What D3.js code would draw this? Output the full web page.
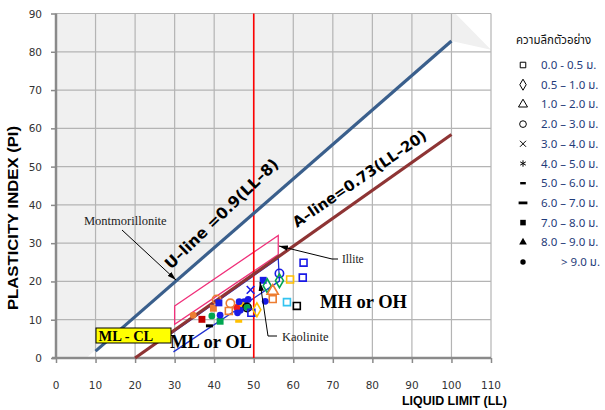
<!DOCTYPE html>
<html>
<head>
<meta charset="utf-8">
<script src="https://cdn.jsdelivr.net/npm/d3@7"></script>
<style>
  body { margin: 0; background: #fff; }
  svg { display: block; }
</style>
</head>
<body>
<svg id="chart" width="605" height="410"></svg>
<script>
// ---- axis ticks ----
const llTicks = [0, 10, 20, 30, 40, 50, 60, 70, 80, 90, 100, 110];
const piTicks = [0, 10, 20, 30, 40, 50, 60, 70, 80, 90];

// ---- legend: sample depth classes ----
const depthTitle = "ความลึกตัวอย่าง";
const depthLabels = [
  "0.0 - 0.5 ม.", "0.5 – 1.0 ม.", "1.0 – 2.0 ม.", "2.0 – 3.0 ม.",
  "3.0 – 4.0 ม.", "4.0 – 5.0 ม.", "5.0 – 6.0 ม.", "6.0 – 7.0 ม.",
  "7.0 – 8.0 ม.", "8.0 – 9.0 ม.", "> 9.0 ม."
];

// ---- reference lines (LL, PI) ----
const uLine = [[10, 1.8], [100, 82.8]];          // PI = 0.9(LL-8)
const aLine = [[20, 0], [100, 58.4]];            // PI = 0.73(LL-20)
const llDivide = [[50, 0], [50, 90]];
const highPlasticZone = [[0, 0.3], [8, 0.3], [100, 82.8], [110, 80.5], [101, 90], [0, 90]];
const illiteZone = [[30, 13.6], [56.2, 32.0], [56.2, 27.0], [30, 8.8]];
const kaoliniteZone = [[27.5, 5.2], [56.2, 26.0], [56.5, 20.1], [29.7, 1.6]];

// ---- test results ----
const sampleLL    = [62.6, 62.4, 59.2, 56.5, 56.5, 52.4, 53.4, 54.8, 54.8, 58.4, 60.9, 52.9, 49.2, 48.6, 47.6,
                     47.0, 48.3, 48.3, 49.4, 46.2, 50.8, 46.6, 45.7, 44.1, 43.7, 40.6, 39.8, 41.2, 39.4, 36.9,
                     41.5, 38.8, 41.5, 34.7, 45.9, 46.3];
const samplePI    = [24.9, 21.0, 20.5, 22.1, 20.2, 20.3, 18.9, 17.5, 15.4, 14.6, 13.6, 14.8, 17.8, 15.3, 14.7,
                     13.8, 13.2, 13.2, 11.8, 9.6, 12.6, 12.5, 13.2, 14.3, 12.3, 15.3, 13.0, 14.4, 11.0, 10.1,
                     9.6, 8.4, 11.2, 11.2, 11.8, 14.7];
const sampleDepth = [0, 0, 0, 3, 1, 8, 1, 2, 0, 0, 0, 10, 4, 10, 10,
                     10, 10, 3, 0, 6, 1, 10, 10, 3, 0, 3, 8, 8, 10, 8,
                     8, 6, 10, 10, 10, 10];
const sampleHole  = [0, 0, 1, 0, 3, 0, 3, 2, 2, 4, 5, 0, 0, 0, 0,
                     1, 3, 5, 0, 1, 1, 0, 6, 2, 2, 2, 2, 0, 3, 7,
                     3, 5, 0, 2, 0, 0];
const holeColors  = ["#1a1ae6", "#ffc000", "#ed7d31", "#00a651", "#33c3f0", "#000000", "#ee1c1c", "#c00000"];

// ---- layout ----
const svg = d3.select("#chart");
const x = d3.scaleLinear().domain([0, 110]).range([56, 491]);
const y = d3.scaleLinear().domain([0, 90]).range([358, 13.5]);
const line = d3.line().x(d => x(d[0])).y(d => y(d[1]));

const defs = svg.append("defs");
defs.append("marker").attr("id", "arrow")
  .attr("viewBox", "0 0 10 6").attr("refX", 10).attr("refY", 3)
  .attr("markerWidth", 9).attr("markerHeight", 5.5).attr("markerUnits", "userSpaceOnUse")
  .attr("orient", "auto")
  .append("path").attr("d", "M0,0 L10,3 L0,6 Z").attr("fill", "#000");

// shaded zone above the U-line
svg.append("path").attr("d", line(highPlasticZone) + "Z").attr("fill", "#f0f0f0");

// grid
const grid = svg.append("g").attr("stroke", "#b4b4b4").attr("stroke-width", 1.2);
llTicks.filter(t => t > 0).forEach(t => {
  grid.append("line").attr("x1", x(t)).attr("x2", x(t)).attr("y1", y(0)).attr("y2", y(90));
});
piTicks.filter(t => t > 0).forEach(t => {
  grid.append("line").attr("x1", x(0)).attr("x2", x(110)).attr("y1", y(t)).attr("y2", y(t));
});

// axes
const xAxis = d3.axisBottom(x).tickValues(llTicks).tickSize(5).tickFormat("");
const yAxis = d3.axisLeft(y).tickValues(piTicks).tickSize(5).tickFormat("");
const gx = svg.append("g").attr("transform", `translate(0,${y(0)})`).call(xAxis);
const gy = svg.append("g").attr("transform", `translate(${x(0)},0)`).call(yAxis);
[gx, gy].forEach(g => {
  g.select(".domain").attr("stroke", "#8a8a8a").attr("stroke-width", 2.5);
  g.selectAll(".tick line").attr("stroke", "#8a8a8a").attr("stroke-width", 1.5);
});
gx.select(".domain").attr("d", `M${x(0) - 4},0H${x(110)}`);
gy.select(".domain").attr("d", `M0,${y(0)}V${y(90)}`);

const tickFont = "'DejaVu Sans', Verdana, sans-serif";
svg.append("g").selectAll("text").data(llTicks).join("text")
  .attr("x", d => x(d)).attr("y", 389).attr("text-anchor", "middle")
  .attr("font-family", tickFont).attr("font-size", 10.5).attr("fill", "#333")
  .text(d => d);
svg.append("g").selectAll("text").data(piTicks).join("text")
  .attr("x", 42).attr("y", d => y(d) + 4).attr("text-anchor", "end")
  .attr("font-family", tickFont).attr("font-size", 10.5).attr("fill", "#333")
  .text(d => d);

// axis titles
svg.append("text").attr("x", 402).attr("y", 404.5)
  .attr("font-family", "'Liberation Sans', Arial, sans-serif").attr("font-weight", "bold")
  .attr("font-size", 13.5).attr("textLength", 105).attr("lengthAdjust", "spacingAndGlyphs")
  .attr("fill", "#000").text("LIQUID LIMIT (LL)");
svg.append("text").attr("transform", "translate(18,218) rotate(-90)").attr("text-anchor", "middle")
  .attr("font-family", "'Liberation Sans', Arial, sans-serif").attr("font-weight", "bold")
  .attr("font-size", 14).attr("textLength", 184).attr("lengthAdjust", "spacingAndGlyphs")
  .attr("fill", "#000").text("PLASTICITY INDEX (PI)");

// zones
svg.append("path").attr("d", line(illiteZone) + "Z")
  .attr("fill", "none").attr("stroke", "#f0307a").attr("stroke-width", 1.3);
svg.append("path").attr("d", line(kaoliniteZone))
  .attr("fill", "none").attr("stroke", "#1f2fd0").attr("stroke-width", 1.3);

// LL = 50 divide
svg.append("path").attr("d", line(llDivide)).attr("stroke", "#ff0000").attr("stroke-width", 1.6);

// U-line and A-line
svg.append("path").attr("d", line(uLine)).attr("stroke", "#3a5f8c").attr("stroke-width", 3.2);
svg.append("path").attr("d", line(aLine)).attr("stroke", "#8e3434").attr("stroke-width", 3.2);

// markers by depth class
const shapeSpec = [
  { t: d3.symbolSquare,   s: 48, fill: false },
  { t: d3.symbolDiamond,  s: 55, fill: false },
  { t: d3.symbolTriangle, s: 55, fill: false },
  { t: d3.symbolCircle,   s: 55, fill: false },
  { t: d3.symbolTimes,    s: 40, fill: false },
  { t: d3.symbolAsterisk, s: 45, fill: false },
  { dash: [7, 3] },
  { dash: [11, 3.5] },
  { t: d3.symbolSquare,   s: 48, fill: true },
  { t: d3.symbolTriangle, s: 40, fill: true },
  { t: d3.symbolCircle,   s: 36, fill: true }
];
function drawMarker(g, cx, cy, depth, color, k, sw) {
  const sp = shapeSpec[depth];
  if (sp.dash) {
    g.append("rect").attr("x", cx - sp.dash[0] * k / 2).attr("y", cy - sp.dash[1] * k / 2)
      .attr("width", sp.dash[0] * k).attr("height", sp.dash[1] * k).attr("fill", color);
    return;
  }
  const p = g.append("path").attr("transform", `translate(${cx},${cy})`)
    .attr("d", d3.symbol(sp.t, sp.s * k * k)());
  if (sp.fill) p.attr("fill", color);
  else p.attr("fill", "none").attr("stroke", color).attr("stroke-width", sw);
}

const pts = svg.append("g");
sampleLL.forEach((ll, i) => {
  drawMarker(pts, x(ll), y(samplePI[i]), sampleDepth[i], holeColors[sampleHole[i]], 1, 1.6);
});

// chart labels
const serif = "'Liberation Serif', 'Times New Roman', serif";
const boldSans = "'DejaVu Sans', Verdana, sans-serif";
svg.append("text").attr("transform", "translate(171,270) rotate(-44)")
  .attr("font-family", boldSans).attr("font-weight", "bold").attr("font-size", 15.5)
  .attr("fill", "#000").text("U–line =0.9(LL–8)");
svg.append("text").attr("transform", "translate(297,228) rotate(-34.5)")
  .attr("font-family", boldSans).attr("font-weight", "bold").attr("font-size", 14.8)
  .attr("fill", "#000").text("A–line=0.73(LL–20)");

svg.append("text").attr("x", 84).attr("y", 225).attr("font-family", serif).attr("font-size", 12.5)
  .attr("fill", "#222").text("Montmorillonite");
svg.append("line").attr("x1", 122).attr("y1", 230).attr("x2", 176).attr("y2", 280)
  .attr("stroke", "#000").attr("stroke-width", 1).attr("marker-end", "url(#arrow)");

svg.append("text").attr("x", 342).attr("y", 263).attr("font-family", serif).attr("font-size", 11.5)
  .attr("fill", "#222").text("Illite");
svg.append("polyline").attr("points", "338,259 332,259 279,246")
  .attr("fill", "none").attr("stroke", "#000").attr("stroke-width", 1).attr("marker-end", "url(#arrow)");

svg.append("text").attr("x", 282).attr("y", 341).attr("font-family", serif).attr("font-size", 12.5)
  .attr("fill", "#222").text("Kaolinite");
svg.append("polyline").attr("points", "277,336 268,336 260,282")
  .attr("fill", "none").attr("stroke", "#000").attr("stroke-width", 1).attr("marker-end", "url(#arrow)");

svg.append("text").attr("x", 170).attr("y", 348).attr("font-family", serif).attr("font-weight", "bold")
  .attr("font-size", 18.5).attr("fill", "#000").text("ML or OL");
svg.append("text").attr("x", 320).attr("y", 308).attr("font-family", serif).attr("font-weight", "bold")
  .attr("font-size", 18.5).attr("fill", "#000").text("MH or OH");

svg.append("rect").attr("x", 96).attr("y", 328).attr("width", 75).attr("height", 15)
  .attr("fill", "#ffff00").attr("stroke", "#000").attr("stroke-width", 1);
svg.append("text").attr("x", 98.5).attr("y", 341).attr("font-family", serif).attr("font-weight", "bold")
  .attr("font-size", 14.5).attr("fill", "#000").text("ML - CL");

// legend
const thaiFont = "Tahoma, 'Noto Sans Thai', Loma, Garuda, 'Noto Sans', 'DejaVu Sans', sans-serif";
const leg = svg.append("g");
leg.append("text").attr("x", 516).attr("y", 44).attr("font-family", thaiFont).attr("font-size", 11.5)
  .attr("fill", "#111").text(depthTitle);
depthLabels.forEach((lab, i) => {
  const cy = 65 + i * 19.7;
  drawMarker(leg, 523, cy, i, "#000", 0.8, 1);
  const t = leg.append("text").attr("y", cy + 4).attr("font-family", thaiFont).attr("font-size", 11.5)
    .attr("fill", "#1f3b7a").text(lab);
  if (i === depthLabels.length - 1) t.attr("x", 600).attr("text-anchor", "end");
  else t.attr("x", 541);
});
</script>
</body>
</html>
